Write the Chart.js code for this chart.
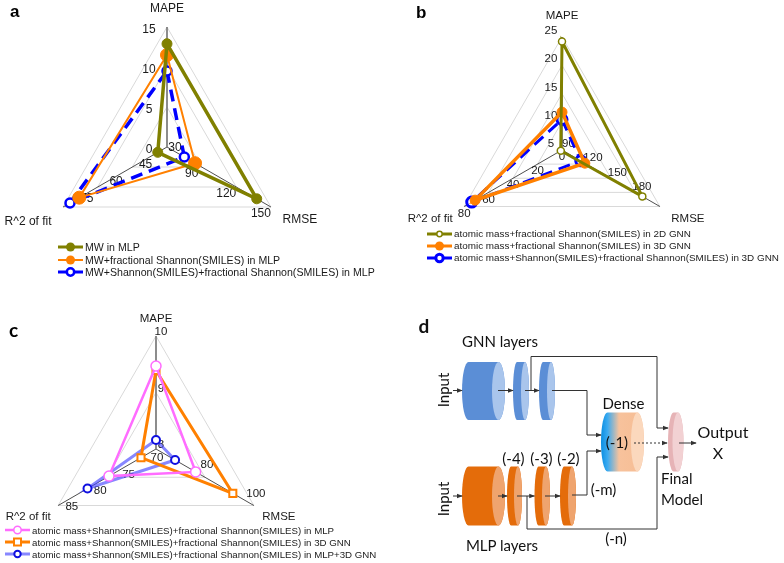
<!DOCTYPE html>
<html>
<head>
<meta charset="utf-8">
<script src="https://cdn.jsdelivr.net/npm/chart.js@4.4.0/dist/chart.umd.min.js"></script>
<style>
  body { margin: 0; background: #fff; width: 784px; height: 563px; position: relative; overflow: hidden;
         font-family: "Liberation Sans", Arial, sans-serif; }
  canvas { position: absolute; }
  .lg { position: absolute; font-size: 10.6px; color: #1a1a1a; white-space: nowrap; z-index: 2; }
  .lg div { display: flex; align-items: center; }
  .lg svg { margin-right: 2px; }
  .tag { position: absolute; font-weight: bold; z-index: 2; }
  #diag { position: absolute; left: 392px; top: 280px; z-index: 2; }
</style>
</head>
<body>
<div class="tag" style="left:10px;top:2px;font-size:17px;">a</div>
<div class="tag" style="left:416px;top:3px;font-size:17px;">b</div>
<div class="tag" style="left:9px;top:318px;font-size:19px;font-family:Lato;">c</div>
<canvas id="chartA" width="392" height="300" style="left:0;top:0"></canvas>
<canvas id="chartB" width="392" height="300" style="left:392px;top:0"></canvas>
<canvas id="chartC" width="392" height="283" style="left:0;top:280px"></canvas>
<div class="lg" id="legA" style="left:58px;top:241px;line-height:12.5px"></div>
<div class="lg" id="legB" style="left:427px;top:228px;font-size:9.9px;line-height:11.5px"></div>
<div class="lg" id="legC" style="left:5px;top:524px;font-size:9.7px;line-height:11px"></div>
<svg id="diag" width="392" height="283"></svg>
<script>
const axisNames = ['MAPE', 'RMSE', 'R^2 of fit'];

// panel a
const aLabels = ['MW in MLP', 'MW+fractional Shannon(SMILES) in MLP', 'MW+Shannon(SMILES)+fractional Shannon(SMILES) in MLP'];
const aMW = [12.9, 137.7, 34];
const aMWFrac = [11.5, 84.3, 68];
const aMWShan = [9.5, 75, 72];
const aMin = [0, 60, 30];
const aMax = [15, 150, 75];
const aTicks = [[0, 5, 10, 15], [90, 120, 150], [30, 45, 60, 75]];

// panel b
const bLabels = ['atomic mass+fractional Shannon(SMILES) in 2D GNN', 'atomic mass+fractional Shannon(SMILES) in 3D GNN',
  'atomic mass+Shannon(SMILES)+fractional Shannon(SMILES) in 3D GNN'];
const b2D = [24.2, 158.5, 1];
const b3D = [11.7, 88, 71];
const b3DShan = [10.4, 83, 73.8];
const bMin = [5, 60, 0];
const bMax = [25, 180, 80];
const bTicks = [[5, 10, 15, 20, 25], [90, 120, 150, 180], [0, 20, 40, 60, 80]];

// panel c
const cLabels = ['atomic mass+Shannon(SMILES)+fractional Shannon(SMILES) in MLP',
  'atomic mass+Shannon(SMILES)+fractional Shannon(SMILES) in 3D GNN',
  'atomic mass+Shannon(SMILES)+fractional Shannon(SMILES) in MLP+3D GNN'];
const cMLP = [9.47, 76.2, 77.2];
const c3D = [9.39, 91.4, 72.3];
const cBoth = [8.16, 67.8, 80.5];
const cMin = [8, 60, 70];
const cMax = [10, 100, 85];
const cTicks = [[8, 9, 10], [80, 100], [70, 75, 80, 85]];

Chart.defaults.font.family = '"Liberation Sans", Arial, sans-serif';

// every axis has its own range -> map onto the shared 0..rings radial scale
const norm = (vals, mn, mx, rings) => vals.map((v, i) => (v - mn[i]) / (mx[i] - mn[i]) * rings);

const axisText = {
  id: 'axisText',
  beforeDatasetsDraw(chart, args, opts) {
    const s = chart.scales.r, ctx = chart.ctx;
    ctx.save();
    ctx.fillStyle = '#1a1a1a';
    ctx.font = opts.font;
    ctx.textBaseline = 'middle';
    opts.axes.forEach((ax, i) => {
      opts.ticks[i].forEach(t => {
        const f = (t - opts.min[i]) / (opts.max[i] - opts.min[i]) * opts.rings * (ax.shrink || 1);
        const p = s.getPointPosition(i, s.getDistanceFromCenterForValue(f));
        ctx.textAlign = 'center';
        ctx.fillText(String(t), p.x + ax.dx, p.y + ax.dy);
      });
      const q = s.getPointPosition(i, s.drawingArea);
      ctx.textAlign = 'center';
      ctx.fillText(axisNames[i], q.x + ax.tx, q.y + ax.ty);
    });
    ctx.restore();
  }
};

function ds(label, data, st) {
  return {
    label, data, fill: false, clip: false,
    borderColor: st.color, borderWidth: st.width, borderDash: st.dash || [],
    pointStyle: st.point || 'circle', pointRadius: st.r, pointHoverRadius: st.r,
    pointBackgroundColor: st.open ? '#fff' : st.color,
    pointBorderColor: st.mark || st.color, pointBorderWidth: st.pw || 1
  };
}

function radar(id, rings, sets, pad, axText) {
  new Chart(document.getElementById(id), {
    type: 'radar',
    data: { labels: axisNames, datasets: sets },
    options: {
      responsive: false, animation: false,
      layout: { padding: pad },
      elements: { line: { tension: 0 } },
      plugins: { legend: { display: false }, tooltip: { enabled: false }, axisText: axText },
      scales: {
        r: {
          min: 0, max: rings,
          ticks: { display: false, stepSize: 1 },
          pointLabels: { display: false },
          grid: { color: '#d9d9d9', lineWidth: 1 },
          angleLines: {
            color: c => c.index === 0 ? '#808080' : '#3a3a3a',
            lineWidth: c => c.index === 0 ? 1.8 : 0.9
          }
        }
      }
    },
    plugins: [axisText]
  });
}

const stA = [
  { color: '#808000', width: 3.5, r: 5 },
  { color: '#ff8000', width: 2, r: 6.5 },
  { color: '#0000ff', width: 3.5, dash: [12, 7], r: 4.5, open: true, pw: 2.5 }
];
const stB = [
  { color: '#808000', width: 3, r: 3.5, open: true, pw: 1.5 },
  { color: '#ff8000', width: 3.5, r: 5 },
  { color: '#0000ff', width: 3, dash: [12, 7], r: 5, open: true, pw: 3 }
];
const stC = [
  { color: '#ff6cff', width: 2.5, r: 5, open: true, pw: 1.5 },
  { color: '#ff8000', width: 3, r: 5, point: 'rect', open: true, pw: 2 },
  { color: 'rgba(70,70,255,0.65)', mark: '#1010e0', width: 3, r: 4, open: true, pw: 2 }
];

radar('chartA', 3, [
  ds(aLabels[0], norm(aMW, aMin, aMax, 3), stA[0]),
  ds(aLabels[1], norm(aMWFrac, aMin, aMax, 3), stA[1]),
  ds(aLabels[2], norm(aMWShan, aMin, aMax, 3), stA[2])
], { left: 0, right: 58, top: 27, bottom: 33 }, {
  rings: 3, min: aMin, max: aMax, ticks: aTicks, font: '12px "Liberation Sans", Arial',
  axes: [
    { dx: -18, dy: 3, tx: 0, ty: -18 },
    { dx: -10, dy: 7, tx: 29, ty: 13 },
    { dx: 8, dy: 1, shrink: 0.85, tx: -35, ty: 15 }
  ]
});

radar('chartB', 4, [
  ds(bLabels[0], norm(b2D, bMin, bMax, 4), stB[0]),
  ds(bLabels[1], norm(b3D, bMin, bMax, 4), stB[1]),
  ds(bLabels[2], norm(b3DShan, bMin, bMax, 4), stB[2])
], { left: 0, right: 52, top: 37, bottom: 37 }, {
  rings: 4, min: bMin, max: bMax, ticks: bTicks, font: '11.5px "Liberation Sans", Arial',
  axes: [
    { dx: -11, dy: -6, tx: 0, ty: -21 },
    { dx: -18, dy: -20, tx: 28, ty: 12 },
    { dx: 0, dy: 7, tx: -34, ty: 12 }
  ]
});

radar('chartC', 2, [
  ds(cLabels[0], norm(cMLP, cMin, cMax, 2), stC[0]),
  ds(cLabels[1], norm(c3D, cMin, cMax, 2), stC[1]),
  ds(cLabels[2], norm(cBoth, cMin, cMax, 2), stC[2])
], { left: 0, right: 80, top: 56, bottom: 1 }, {
  rings: 2, min: cMin, max: cMax, ticks: cTicks, font: '11.5px "Liberation Sans", Arial',
  axes: [
    { dx: 5, dy: -4, tx: 0, ty: -17 },
    { dx: 2, dy: -12, tx: 25, ty: 11 },
    { dx: 1, dy: 9, shrink: 0.87, tx: -30, ty: 11 }
  ]
});

// html legends
function legend(id, labels, styles) {
  const box = document.getElementById(id);
  labels.forEach((txt, i) => {
    const st = styles[i];
    const r = Math.min(st.r, 4.5);
    const mark = st.point === 'rect'
      ? `<rect x="${12.5 - r + 1}" y="${6 - r + 1}" width="${2 * r - 2}" height="${2 * r - 2}" fill="#fff" stroke="${st.color}" stroke-width="${st.pw}"/>`
      : `<circle cx="12.5" cy="6" r="${st.open ? r - 0.8 : r}" fill="${st.open ? '#fff' : st.color}" stroke="${st.mark || st.color}" stroke-width="${st.open ? st.pw : 0}"/>`;
    const row = document.createElement('div');
    row.innerHTML = `<svg width="25" height="12"><line x1="0" y1="6" x2="25" y2="6" stroke="${st.color}" stroke-width="${Math.min(st.width, 3)}"/>${mark}</svg><span>${txt}</span>`;
    box.appendChild(row);
  });
}
legend('legA', aLabels, stA);
legend('legB', bLabels, stB);
legend('legC', cLabels, stC);

// panel d: architecture sketch
const NS = 'http://www.w3.org/2000/svg';
const svg = document.getElementById('diag');
function el(tag, attrs, text) {
  const e = document.createElementNS(NS, tag);
  for (const k in attrs) e.setAttribute(k, attrs[k]);
  if (text) e.textContent = text;
  svg.appendChild(e);
  return e;
}
const defs = el('defs', {});
defs.innerHTML = `
  <marker id="arr" viewBox="0 0 8 8" refX="7" refY="4" markerWidth="6" markerHeight="6" orient="auto">
    <path d="M0,1 L8,4 L0,7 Z" fill="#333"/></marker>
  <linearGradient id="dense" x1="0" x2="1" y1="0" y2="0">
    <stop offset="0" stop-color="#0a8ee2"/><stop offset="0.15" stop-color="#3aaaf0"/>
    <stop offset="0.42" stop-color="#f7c29c"/><stop offset="1" stop-color="#f6bd94"/></linearGradient>`;

function cyl(x0, xc, cy, rx, ry, body, face) {
  el('path', { d: `M${x0 + rx},${cy - ry} L${xc},${cy - ry} A${rx},${ry} 0 0 1 ${xc},${cy + ry} L${x0 + rx},${cy + ry} A${rx},${ry} 0 0 1 ${x0 + rx},${cy - ry} Z`, fill: body });
  el('ellipse', { cx: xc, cy, rx, ry, fill: face });
}
function wire(pts, dashed) {
  el('polyline', { points: pts.map(p => p.join(',')).join(' '), fill: 'none', stroke: '#333', 'stroke-width': 1,
    'stroke-dasharray': dashed ? '2,2' : 'none', 'marker-end': 'url(#arr)' });
}
function txt(x, y, s, size, extra) {
  return el('text', Object.assign({ x, y, 'font-family': 'Lato', 'font-size': size, fill: '#111',
    'text-anchor': 'middle', 'dominant-baseline': 'middle' }, extra || {}), s);
}

const blue = '#5b8ed6', blueFace = '#a9c5ec', orange = '#e46c0a', orangeFace = '#efa46e';
// GNN branch
cyl(70, 106.5, 111, 6.5, 29, blue, blueFace);
cyl(121, 133, 111, 4, 29, blue, blueFace);
cyl(147, 159, 111, 4, 29, blue, blueFace);
// MLP branch
cyl(70, 106.5, 216, 6.5, 29.5, orange, orangeFace);
cyl(115, 126, 216, 4, 29.5, orange, orangeFace);
cyl(142.5, 154, 216, 4, 29.5, orange, orangeFace);
cyl(168, 180, 216, 4, 29.5, orange, orangeFace);
// Dense and final model
cyl(209, 245.5, 162, 6.5, 29.5, 'url(#dense)', '#fbd8bd');
cyl(276, 286, 162, 5.5, 29.5, '#e6b3b6', '#f2d1d3');

wire([[61, 110.5], [70, 110.5]]);
wire([[106, 110.5], [121, 110.5]]);
wire([[133, 110.5], [147, 110.5]]);
wire([[160, 110.5], [195, 110.5], [195, 155], [209, 155]]);
wire([[139, 110.5], [139, 76.5], [265, 76.5], [265, 148], [276, 148]]);
wire([[61, 216], [70, 216]]);
wire([[106, 216], [115, 216]]);
wire([[125, 216], [142.5, 216]]);
wire([[153, 216], [168, 216]]);
wire([[180, 215], [195, 215], [195, 171], [209, 171]]);
wire([[135, 216], [135, 249], [265, 249], [265, 177], [276, 177]]);
wire([[242, 163], [275, 163]], true);
wire([[287, 163], [304, 163]]);

txt(32, 48, 'd', 19, { 'font-weight': 'bold' });
txt(108, 63, 'GNN layers', 15);
txt(110, 267, 'MLP layers', 15);
txt(53, 110, 'Input', 15, { transform: 'rotate(-90 53 110)' });
txt(53, 219, 'Input', 15, { transform: 'rotate(-90 53 219)' });
txt(231.5, 125, 'Dense', 15);
txt(225, 164, '(-1)', 15);
txt(121.5, 180, '(-4)', 15);
txt(149.5, 180, '(-3)', 15);
txt(176.5, 180, '(-2)', 15);
txt(211.5, 211, '(-m)', 15);
txt(224, 260, '(-n)', 15);
txt(331, 154, 'Output', 16);
txt(326, 175, 'X', 16);
txt(269, 200, 'Final', 15, { 'text-anchor': 'start' });
txt(269, 221, 'Model', 15, { 'text-anchor': 'start' });
</script>
</body>
</html>
